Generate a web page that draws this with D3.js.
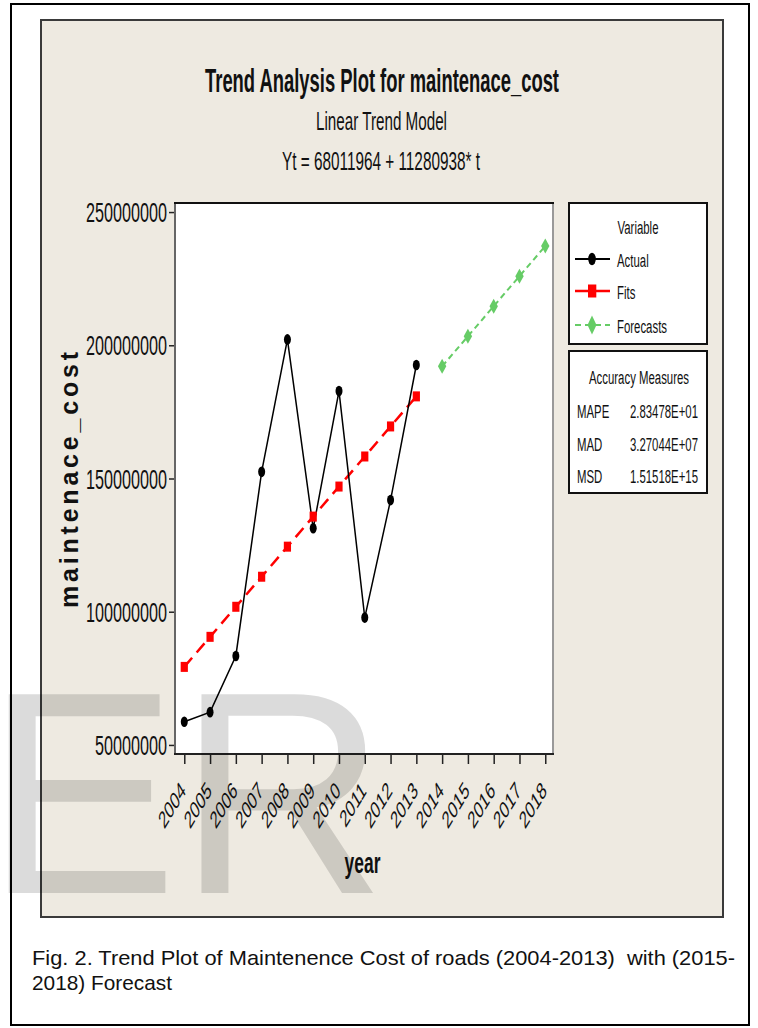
<!DOCTYPE html>
<html lang="en">
<head>
<meta charset="utf-8">
<title>Trend Analysis Plot for maintenace_cost</title>
<script src="https://d3js.org/d3.v7.min.js"></script>
<style>
    body { margin: 0; background: #fff; }
    svg { display: block; font-family: "Liberation Sans", Arial, sans-serif; }
</style>
</head>
<body>
<svg id="chart" width="758" height="1028"></svg>
<script>
    // data
    const years = [2004, 2005, 2006, 2007, 2008, 2009, 2010, 2011, 2012, 2013, 2014, 2015, 2016, 2017, 2018];
    const actualYears = [2004, 2005, 2006, 2007, 2008, 2009, 2010, 2011, 2012, 2013];
    const forecastYears = [2014, 2015, 2016, 2017, 2018];
    const actualValues = [58.7e6, 62.3e6, 83.4e6, 152.5e6, 202.2e6, 131.3e6, 182.8e6, 97.8e6, 141.9e6, 192.6e6];
    const fitValues = [79292902, 90573840, 101854778, 113135716, 124416654, 135697592, 146978530, 158259468, 169540406, 180821344];
    const forecastValues = [192102282, 203383220, 214664158, 225945096, 237226034];
    const yTicks = [50000000, 100000000, 150000000, 200000000, 250000000];
    const accuracyNames = ["MAPE", "MAD", "MSD"];
    const accuracyValues = ["2.83478E+01", "3.27044E+07", "1.51518E+15"];
    const legendNames = ["Actual", "Fits", "Forecasts"];

    let svg = d3.select("#chart");
    let plot = {left: 175, right: 553, top: 203, bottom: 754};

    // narrow text, like the squeezed minitab export
    function narrow(g, x, y, str, size) {
        return g.append("text")
            .attr("transform", `translate(${x},${y}) scale(0.6,1)`)
            .attr("font-size", size)
            .attr("fill", "#111")
            .text(str);
    }

    // outer frame and graph panel
    svg.append("rect").attr("x", 11).attr("y", 4).attr("width", 738).attr("height", 1021)
        .attr("fill", "#fff").attr("stroke", "#000").attr("stroke-width", 2);
    svg.append("rect").attr("x", 41).attr("y", 20).attr("width", 682).attr("height", 897)
        .attr("fill", "#eeeae1").attr("stroke", "#3a3a3a").attr("stroke-width", 2);

    // titles
    svg.append("text").attr("x", 205).attr("y", 92).attr("font-size", 33).attr("font-weight", "bold")
        .attr("textLength", 354).attr("lengthAdjust", "spacingAndGlyphs").attr("fill", "#111")
        .text("Trend Analysis Plot for maintenace_cost");
    svg.append("text").attr("x", 316).attr("y", 130).attr("font-size", 26)
        .attr("textLength", 131).attr("lengthAdjust", "spacingAndGlyphs").attr("fill", "#111")
        .text("Linear Trend Model");
    svg.append("text").attr("x", 282).attr("y", 170).attr("font-size", 26)
        .attr("textLength", 198).attr("lengthAdjust", "spacingAndGlyphs").attr("fill", "#111")
        .text("Yt = 68011964 + 11280938* t");

    let x = d3.scaleLinear().domain([2003.64, 2018.3]).range([plot.left, plot.right]);
    let y = d3.scaleLinear().domain([46.6e6, 253.4e6]).range([plot.bottom, plot.top]);

    svg.append("rect").attr("x", plot.left).attr("y", plot.top)
        .attr("width", plot.right - plot.left).attr("height", plot.bottom - plot.top)
        .attr("fill", "#fff");

    // axes
    let gy = svg.append("g").attr("transform", `translate(${plot.left},0)`)
        .call(d3.axisLeft(y).tickValues(yTicks).tickSize(6).tickFormat(d3.format("d")));
    gy.select(".domain").remove();
    gy.selectAll(".tick line").attr("stroke", "#222").attr("stroke-width", 1.5);
    gy.selectAll(".tick text")
        .attr("x", -8 / 0.6).attr("dy", "0.36em")
        .attr("transform", "scale(0.6,1)")
        .attr("font-size", 27).attr("font-family", null).attr("fill", "#111");

    let gx = svg.append("g").attr("transform", `translate(0,${plot.bottom})`)
        .call(d3.axisBottom(x).tickValues(years).tickSize(10).tickFormat(d3.format("d")));
    gx.select(".domain").remove();
    gx.selectAll(".tick line").attr("stroke", "#222").attr("stroke-width", 1.5);
    gx.selectAll(".tick text")
        .attr("x", 0).attr("y", 0).attr("dy", 0)
        .attr("text-anchor", "end")
        .attr("transform", "translate(2,38) scale(0.6,1) rotate(-45)")
        .attr("font-size", 24).attr("font-family", null).attr("fill", "#111");

    // plot frame
    let frame = svg.append("g").attr("fill", "none");
    frame.append("line").attr("x1", plot.left).attr("x2", plot.left).attr("y1", plot.top).attr("y2", plot.bottom)
        .attr("stroke", "#666").attr("stroke-width", 2);
    frame.append("line").attr("x1", plot.right).attr("x2", plot.right).attr("y1", plot.top).attr("y2", plot.bottom)
        .attr("stroke", "#999").attr("stroke-width", 2);
    frame.append("line").attr("x1", plot.left - 1).attr("x2", plot.right + 1).attr("y1", plot.top).attr("y2", plot.top)
        .attr("stroke", "#111").attr("stroke-width", 2);
    frame.append("line").attr("x1", plot.left - 1).attr("x2", plot.right + 1).attr("y1", plot.bottom).attr("y2", plot.bottom)
        .attr("stroke", "#222").attr("stroke-width", 2);

    // axis titles
    svg.append("text").attr("transform", "translate(78,480) rotate(-90)")
        .attr("text-anchor", "middle").attr("font-family", "Arial, 'Liberation Sans', sans-serif")
        .attr("font-size", 25).attr("font-weight", "bold")
        .attr("textLength", 256).attr("lengthAdjust", "spacing").attr("fill", "#111")
        .text("maintenace_cost");
    narrow(svg, 362.5, 873, "year", 29).attr("font-weight", "bold").attr("text-anchor", "middle");

    // series
    let line = d3.line().x(d => x(d[0])).y(d => y(d[1]));
    let actual = d3.zip(actualYears, actualValues);
    let fits = d3.zip(actualYears, fitValues);
    let fc = d3.zip(forecastYears, forecastValues);

    let marks = svg.append("g");
    marks.append("path").attr("d", line(fits)).attr("fill", "none")
        .attr("stroke", "#ff0000").attr("stroke-width", 2.5).attr("stroke-dasharray", "12,7");
    marks.append("path").attr("d", line(fc)).attr("fill", "none")
        .attr("stroke", "#66cc66").attr("stroke-width", 2).attr("stroke-dasharray", "6,4");
    marks.append("path").attr("d", line(actual)).attr("fill", "none")
        .attr("stroke", "#000").attr("stroke-width", 1.5);

    marks.selectAll("rect.fit").data(fits).enter().append("rect")
        .attr("x", d => x(d[0]) - 3.6).attr("y", d => y(d[1]) - 5)
        .attr("width", 7.2).attr("height", 10).attr("fill", "#ff0000");
    marks.selectAll("path.fc").data(fc).enter().append("path")
        .attr("d", "M0,-7.5L4.2,0L0,7.5L-4.2,0Z")
        .attr("transform", d => `translate(${x(d[0])},${y(d[1])})`)
        .attr("fill", "#66cc66");
    marks.selectAll("ellipse").data(actual).enter().append("ellipse")
        .attr("cx", d => x(d[0])).attr("cy", d => y(d[1]))
        .attr("rx", 3.5).attr("ry", 5.3).attr("fill", "#000");

    // legend box
    let leg = svg.append("g");
    leg.append("rect").attr("x", 569).attr("y", 203).attr("width", 138).attr("height", 141)
        .attr("fill", "#fff").attr("stroke", "#111").attr("stroke-width", 2);
    narrow(leg, 638, 234, "Variable", 19).attr("text-anchor", "middle");
    let rowsY = [259, 291, 325];
    let styles = [
        {color: "#000", dash: null, width: 2},
        {color: "#ff0000", dash: null, width: 2.5},
        {color: "#66cc66", dash: "6,4", width: 2}
    ];
    legendNames.forEach((name, i) => {
        let r = leg.append("g").attr("transform", `translate(0,${rowsY[i]})`);
        r.append("line").attr("x1", 575).attr("x2", 610).attr("y1", 0).attr("y2", 0)
            .attr("stroke", styles[i].color).attr("stroke-width", styles[i].width)
            .attr("stroke-dasharray", styles[i].dash);
        if (i === 0) r.append("ellipse").attr("cx", 592).attr("cy", 0).attr("rx", 3.8).attr("ry", 6.2).attr("fill", "#000");
        if (i === 1) r.append("rect").attr("x", 588).attr("y", -6.5).attr("width", 8.3).attr("height", 13).attr("fill", "#ff0000");
        if (i === 2) r.append("path").attr("d", "M592,-9.5L596.5,0L592,9.5L587.5,0Z").attr("fill", "#66cc66");
        narrow(r, 617, 8, name, 19);
    });

    // accuracy box
    let acc = svg.append("g");
    acc.append("rect").attr("x", 569).attr("y", 351).attr("width", 138).attr("height", 142)
        .attr("fill", "#fff").attr("stroke", "#111").attr("stroke-width", 2);
    narrow(acc, 639, 384, "Accuracy Measures", 19).attr("text-anchor", "middle");
    let accY = [418, 451, 483];
    accuracyNames.forEach((n, i) => {
        narrow(acc, 577, accY[i], n, 19);
        narrow(acc, 698, accY[i], accuracyValues[i], 19).attr("text-anchor", "end");
    });

    // caption
    svg.append("text").attr("x", 32).attr("y", 965).attr("font-size", 21)
        .attr("font-family", "Arial, 'Liberation Sans', sans-serif")
        .attr("textLength", 703).attr("lengthAdjust", "spacingAndGlyphs").style("white-space", "pre")
        .attr("fill", "#111")
        .text("Fig. 2. Trend Plot of Maintenence Cost of roads (2004-2013)  with (2015-");
    svg.append("text").attr("x", 32).attr("y", 990).attr("font-size", 21)
        .attr("font-family", "Arial, 'Liberation Sans', sans-serif")
        .attr("textLength", 140).attr("lengthAdjust", "spacingAndGlyphs").attr("fill", "#111")
        .text("2018) Forecast");

    // watermark over everything
    svg.append("text").attr("x", -15).attr("y", 893)
        .attr("font-family", "Arial, 'Liberation Sans', sans-serif").attr("font-size", 289)
        .attr("fill", "#000").attr("fill-opacity", 0.14)
        .text("ER");
</script>
</body>
</html>
